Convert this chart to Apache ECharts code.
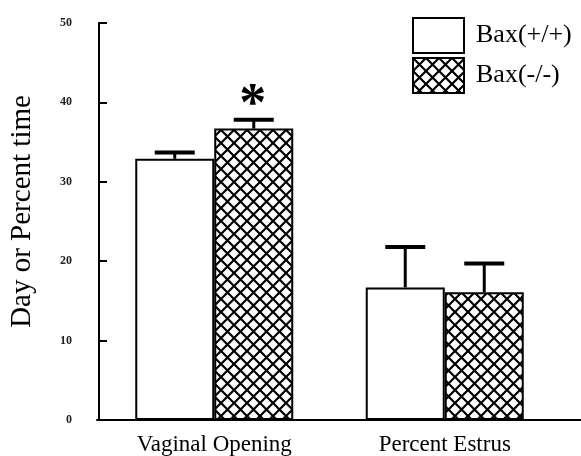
<!DOCTYPE html>
<html><head><meta charset="utf-8">
<script src="https://cdn.jsdelivr.net/npm/echarts@6/dist/echarts.min.js"></script>
<style>html,body{margin:0;padding:0;background:#fff}#c{width:581px;height:456px}</style>
</head><body><div id="c"></div>
<script>
const categories = ['Vaginal Opening', 'Percent Estrus'];
const seriesNames = ['Bax(+/+)', 'Bax(-/-)'];
const wildType = [32.9, 16.7];
const wildTypeErr = [0.8, 5.1];
const knockout = [36.7, 16.1];
const knockoutErr = [1.1, 3.6];
const significance = ['*', ''];
const yTicks = [0, 10, 20, 30, 40, 50];

const tile = document.createElement('canvas');
tile.width = 13; tile.height = 13;
const g = tile.getContext('2d');
g.fillStyle = '#fff'; g.fillRect(0, 0, 13, 13);
g.strokeStyle = '#000'; g.lineWidth = 2.2;
g.beginPath(); g.moveTo(-1, -1); g.lineTo(14, 14); g.moveTo(14, -1); g.lineTo(-1, 14); g.stroke();

const BW = 79;
const serif = 'Liberation Serif, Times New Roman, serif';

function errRender(values, errs, offset, sig) {
  return function (params, api) {
    const i = api.value(0);
    const v = values[i], e = errs[i];
    const base = api.coord([i, v]);
    const top = api.coord([i, v + e]);
    const x = base[0] + offset;
    const children = [
      { type: 'line', shape: { x1: x, y1: base[1], x2: x, y2: top[1] }, style: { stroke: '#000', lineWidth: 3 } },
      { type: 'line', shape: { x1: x - 20, y1: top[1], x2: x + 20, y2: top[1] }, style: { stroke: '#000', lineWidth: 4 } }
    ];
    if (sig && sig[i]) {
      children.push({ type: 'text', style: { text: sig[i], x: x - 1, y: top[1] - 14, textAlign: 'center', textVerticalAlign: 'middle', font: 'bold 54px ' + serif, fill: '#000' } });
    }
    return { type: 'group', children };
  };
}

const chart = echarts.init(document.getElementById('c'));
chart.setOption({
  animation: false,
  backgroundColor: '#fff',
  grid: [
    { left: 97, right: 21, top: 23, bottom: 36 },
    { left: 97, right: 0, top: 23, bottom: 36 }
  ],
  legend: {
    orient: 'vertical', left: 407, top: 12, itemWidth: 51, itemHeight: 35, itemGap: 3,
    icon: 'rect', data: seriesNames,
    textStyle: { fontFamily: serif, fontSize: 26, color: '#000', padding: [0, 0, 0, 7], lineHeight: 30 }
  },
  xAxis: [
    { type: 'category', data: categories, gridIndex: 0,
      axisLine: { lineStyle: { color: '#000', width: 2 } }, axisTick: { show: false },
      axisLabel: { fontFamily: serif, fontSize: 23, color: '#000', margin: 13 } },
    { type: 'value', gridIndex: 1, min: 0, max: 1,
      axisLine: { show: true, lineStyle: { color: '#000', width: 2 } }, axisTick: { show: false },
      axisLabel: { show: false }, splitLine: { show: false } }
  ],
  yAxis: [
    { type: 'value', gridIndex: 0, min: yTicks[0], max: yTicks[yTicks.length - 1], interval: 10,
      name: 'Day or Percent time', nameLocation: 'middle', nameGap: 62,
      nameTextStyle: { fontFamily: serif, fontSize: 29, color: '#000', padding: [0, 0, 0, 20] },
      axisLine: { show: true, lineStyle: { color: '#000', width: 2 } },
      axisTick: { show: true, inside: true, length: 8, lineStyle: { color: '#000', width: 2 } },
      axisLabel: { fontFamily: serif, fontWeight: 'bold', fontSize: 12, color: '#222', margin: 27 },
      splitLine: { show: false } },
    { type: 'value', gridIndex: 1, min: 0, max: 50, show: false }
  ],
  series: [
    { name: seriesNames[0], type: 'bar', data: wildType, barWidth: BW, barGap: '0%',
      itemStyle: { color: '#fff', borderColor: '#000', borderWidth: 2 } },
    { name: seriesNames[1], type: 'bar', data: knockout, barWidth: BW, barGap: '0%',
      itemStyle: { color: { image: tile, repeat: 'repeat' }, borderColor: '#000', borderWidth: 2 } },
    { type: 'custom', data: categories.map((c, i) => [i]), renderItem: errRender(wildType, wildTypeErr, -BW / 2, null), z: 1 },
    { type: 'custom', data: categories.map((c, i) => [i]), renderItem: errRender(knockout, knockoutErr, BW / 2, significance), z: 1 }
  ]
});
</script></body></html>
